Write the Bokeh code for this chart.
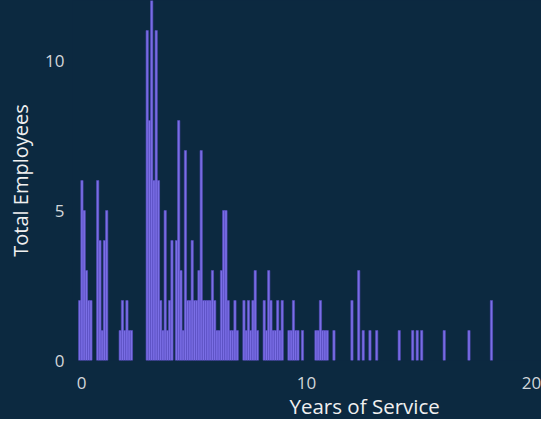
from bokeh.plotting import figure
from bokeh.models import Range1d, FixedTicker, Title, ColumnDataSource
from bokeh.embed import file_html
from bokeh.resources import INLINE

# Histogram of years of service (bin start in years, 0.1-year bins) and employee counts
bin_start = [
    -0.13, -0.03, 0.07, 0.17, 0.27, 0.37, 0.67, 0.77, 0.87, 0.97, 1.07,
    1.67, 1.77, 1.87, 1.97, 2.07, 2.17,
    2.87, 2.97, 3.07, 3.17, 3.27, 3.37, 3.47, 3.57, 3.67, 3.77, 3.87, 3.97,
    4.17, 4.27, 4.37, 4.47, 4.57, 4.67, 4.77, 4.87, 4.97, 5.07, 5.17, 5.27,
    5.37, 5.47, 5.57, 5.67, 5.77, 5.87, 5.97, 6.07, 6.17, 6.27, 6.37, 6.47,
    6.57, 6.67, 6.77, 6.87,
    7.17, 7.27, 7.37, 7.47, 7.57, 7.67, 7.77,
    8.07, 8.17, 8.27, 8.37, 8.47, 8.57, 8.67, 8.77, 8.87,
    9.17, 9.27, 9.37, 9.47, 9.57, 9.77,
    10.37, 10.47, 10.57, 10.67, 10.77, 10.87, 11.17,
    11.97, 12.27, 12.47, 12.77, 13.07, 14.07, 14.67, 14.87, 15.07,
    16.07, 17.17, 18.17,
]
employees = [
    2, 6, 5, 3, 2, 2, 6, 4, 1, 4, 5,
    1, 2, 1, 2, 1, 1,
    11, 8, 12, 6, 11, 6, 2, 1, 5, 1, 2, 4,
    4, 8, 3, 1, 7, 2, 2, 4, 2, 2, 3, 7,
    2, 2, 2, 2, 3, 2, 1, 1, 3, 5, 5, 2,
    1, 1, 2, 1,
    2, 1, 2, 1, 2, 3, 1,
    2, 1, 3, 2, 1, 1, 2, 1, 2,
    1, 1, 2, 1, 1, 1,
    1, 1, 2, 1, 1, 1, 1,
    2, 3, 1, 1, 1, 1, 1, 1, 1,
    1, 1, 2,
]
bin_width = 0.1
x_ticks = [0, 10, 20]
y_ticks = [0, 5, 10]
x_title = "Years of Service"
y_title = "Total Employees"

BG = "#0C2940"
BAR = "#7B6FE6"
BAR_EDGE = "#5A4EC4"

src = ColumnDataSource(dict(
    left=bin_start,
    right=[b + bin_width for b in bin_start],
    top=employees,
    bottom=[0] * len(employees),
))

p = figure(width=541, height=419, output_backend="svg", toolbar_location=None,
           x_range=Range1d(-0.4, 20.444), y_range=Range1d(0, 12),
           min_border_left=72, min_border_right=0, min_border_top=0,
           min_border_bottom=59,
           styles={"background-color": BG})
p.background_fill_color = BG
p.border_fill_color = None
p.outline_line_color = None
p.grid.visible = False

p.quad(left="left", right="right", top="top", bottom="bottom", source=src,
       fill_color=BAR, line_color=BAR_EDGE, line_width=0.6)

for ax in (p.xaxis[0], p.yaxis[0]):
    ax.axis_line_color = None
    ax.major_tick_line_color = None
    ax.minor_tick_line_color = None
    ax.major_tick_out = 0
    ax.major_tick_in = 0
    ax.major_label_text_font = "Open Sans"
    ax.major_label_text_font_size = "17px"
    ax.major_label_text_color = "#D2D6DA"

p.xaxis[0].ticker = FixedTicker(ticks=x_ticks)
p.yaxis[0].ticker = FixedTicker(ticks=y_ticks)
p.xaxis[0].major_label_standoff = 16
p.yaxis[0].major_label_standoff = 8

p.yaxis[0].axis_label = y_title
p.yaxis[0].axis_label_text_font = "Open Sans"
p.yaxis[0].axis_label_text_font_size = "20px"
p.yaxis[0].axis_label_text_font_style = "normal"
p.yaxis[0].axis_label_text_color = "#F0F0F0"
p.yaxis[0].axis_label_standoff = 8

t = Title(text=x_title, align="left", offset=217, standoff=-3,
          text_font="Open Sans", text_font_size="20.5px",
          text_font_style="normal", text_color="#F0F0F0")
p.add_layout(t, "below")

open("out.html", "w").write(file_html(p, INLINE))
